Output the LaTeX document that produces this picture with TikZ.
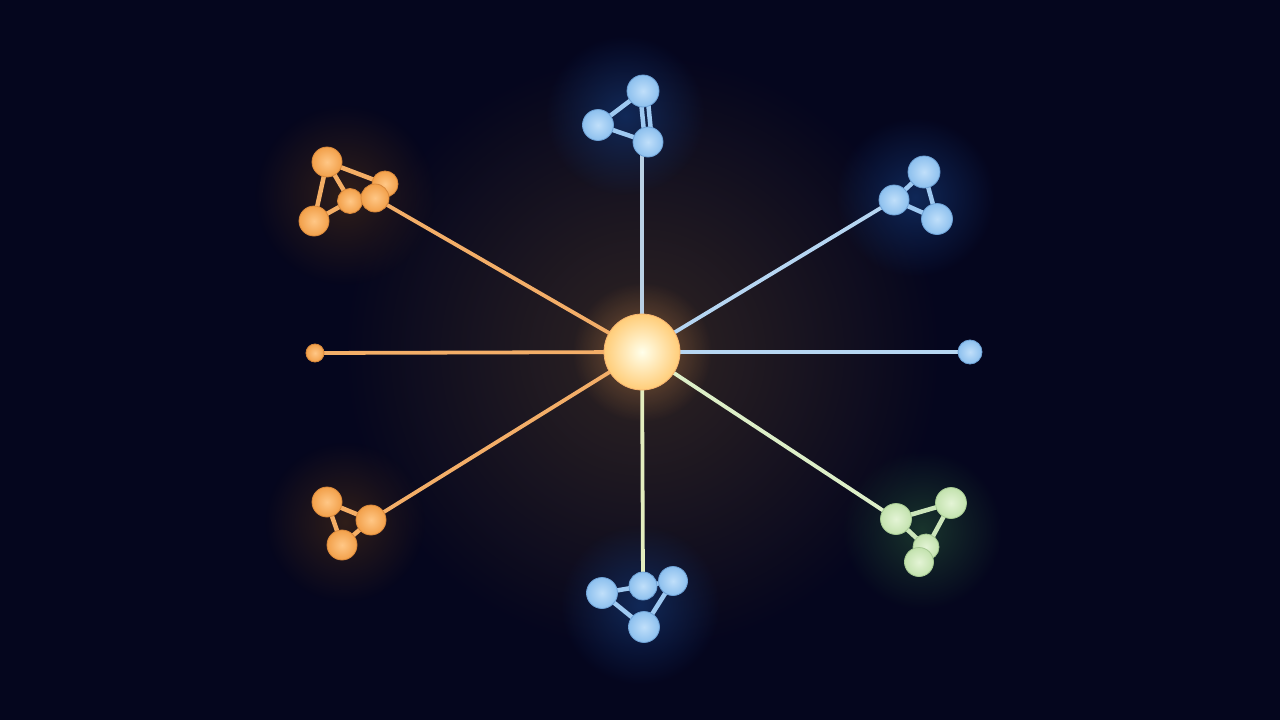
\documentclass[tikz,border=0pt]{standalone}
\usetikzlibrary{backgrounds,fadings}
\definecolor{bg}{HTML}{05061E}
\definecolor{ob}{HTML}{F2A04A}\definecolor{oh}{HTML}{FFC786}\definecolor{od}{HTML}{D8883C}
\definecolor{bb}{HTML}{8DC0EE}\definecolor{bh}{HTML}{C0DFFA}\definecolor{bd}{HTML}{6FA2D6}
\definecolor{gb}{HTML}{C3E2AE}\definecolor{gh}{HTML}{E4F4D6}\definecolor{gd}{HTML}{A6C993}
\definecolor{lo}{HTML}{F3AE68}\definecolor{lb}{HTML}{B6D6F2}\definecolor{lg}{HTML}{DDEFC8}
\definecolor{ly}{HTML}{E3EDBE}\definecolor{lt}{HTML}{B9D0E4}
\definecolor{og}{HTML}{3A2418}\definecolor{bgl}{HTML}{123066}\definecolor{ggl}{HTML}{1E4030}
\definecolor{hubglow}{HTML}{3A2C24}
\tikzfading[name=glowfade, inner color=transparent!20, outer color=transparent!100]
\pgfdeclarelayer{glow}\pgfdeclarelayer{edges}
\pgfsetlayers{glow,edges,main}
\tikzset{
  ballo/.style={circle,inner sep=0pt,minimum size=#1,draw=od,line width=0.8pt,inner color=oh,outer color=ob},
  ballb/.style={circle,inner sep=0pt,minimum size=#1,draw=bd,line width=0.8pt,inner color=bh,outer color=bb},
  ballg/.style={circle,inner sep=0pt,minimum size=#1,draw=gd,line width=0.8pt,inner color=gh,outer color=gb},
  spoke/.style={line width=3.8pt},
  bondo/.style={line width=4.5pt,draw=ob!85!white},
  bondb/.style={line width=4.5pt,draw=bb!85!white},
  bondg/.style={line width=4.5pt,draw=gb!85!white},
  glowdisc/.style={fill=#1,path fading=glowfade},
}
\begin{document}
\begin{tikzpicture}[x=1pt,y=-1pt]
\useasboundingbox (0,0) rectangle (1280,720);
\begin{pgfonlayer}{glow}
\fill[bg] (0,0) rectangle (1280,720);
\fill[glowdisc=hubglow] (642,352) circle (300);
\fill[glowdisc=og] (345,195) circle (90);
\fill[glowdisc=og] (345,522) circle (80);
\fill[glowdisc=bgl] (625,115) circle (80);
\fill[glowdisc=bgl] (915,197) circle (80);
\fill[glowdisc=bgl] (640,605) circle (80);
\fill[glowdisc=ggl] (922,530) circle (80);
\fill[glowdisc=ob!60!bg] (642,352) circle (70);
\end{pgfonlayer}

% hub
\node[circle,inner sep=0pt,minimum size=76pt,draw=ob!80!white,line width=0.8pt,inner color=white!92!yellow,outer color=oh!90!yellow] (hub) at (642,352) {};

% top-left orange cluster
\node[ballo=30pt] (a1) at (327,162) {};
\node[ballo=30pt] (a2) at (314,221) {};
\node[ballo=26pt] (a3) at (385,184) {};
\node[ballo=25pt] (a4) at (350,201) {};
\node[ballo=28pt] (a5) at (375,198) {};

% top blue cluster
\node[ballb=32pt] (b1) at (643,91) {};
\node[ballb=31pt] (b2) at (598,125) {};
\node[ballb=30pt] (b3) at (648,142) {};

% top-right blue cluster
\node[ballb=32pt] (c1) at (924,172) {};
\node[ballb=30pt] (c2) at (894,200) {};
\node[ballb=31pt] (c3) at (937,219) {};

% bottom-left orange cluster
\node[ballo=30pt] (d1) at (327,502) {};
\node[ballo=30pt] (d2) at (371,520) {};
\node[ballo=30pt] (d3) at (342,545) {};

% bottom blue cluster
\node[ballb=31pt] (e1) at (602,593) {};
\node[ballb=29pt] (e3) at (673,581) {};
\node[ballb=28pt] (e2) at (643,586) {};
\node[ballb=31pt] (e4) at (644,627) {};

% bottom-right green cluster
\node[ballg=31pt] (f2) at (951,503) {};
\node[ballg=31pt] (f1) at (896,519) {};
\node[ballg=26pt] (f3) at (926,547) {};
\node[ballg=29pt] (f4) at (919,562) {};

% end dots
\node[ballo=18pt] (lft) at (315,353) {};
\node[ballb=24pt] (rgt) at (970,352) {};

\begin{pgfonlayer}{edges}
% spokes
\draw[spoke,lo] (hub.center) -- (a5.center);
\draw[spoke,lo] (hub.center) -- (lft.center);
\draw[spoke,lo] (hub.center) -- (d2.center);
\draw[spoke,lt] (hub.center) -- (hub.center |- b3.center);
\draw[spoke,lb] (hub.center) -- (c2.center);
\draw[spoke,lb] (hub.center) -- (rgt.center);
\draw[spoke,lg] (hub.center) -- (f1.center);
\draw[spoke,ly] (hub.center) -- (e2.center);
% bonds
\draw[bondo] (a1.center) -- (a2.center);
\draw[bondo] (a1.center) -- (a4.center);
\draw[bondo] (a1.center) -- (a3.center);
\draw[bondo] (a2.center) -- (a4.center);
\draw[bondo] (a4.center) -- (a5.center);
\draw[bondb] (b2.center) -- (b1.center);
\draw[bondb] (b2.center) -- (b3.center);
\draw[bondb] ([xshift=-3pt]b1.center) -- ([xshift=-3pt]b3.center);
\draw[bondb] ([xshift=4pt]b1.center) -- ([xshift=4pt]b3.center);
\draw[bondb] (c2.center) -- (c1.center);
\draw[bondb] (c1.center) -- (c3.center);
\draw[bondb] (c2.center) -- (c3.center);
\draw[bondo] (d1.center) -- (d2.center);
\draw[bondo] (d1.center) -- (d3.center);
\draw[bondo] (d2.center) -- (d3.center);
\draw[bondb] (e1.center) -- (e2.center);
\draw[bondb] (e1.center) -- (e4.center);
\draw[bondb] (e2.center) -- (e3.center);
\draw[bondb] (e3.center) -- (e4.center);
\draw[bondg] (f1.center) -- (f2.center);
\draw[bondg] (f2.center) -- (f4.center);
\draw[bondg] (f1.center) -- (f3.center);
\end{pgfonlayer}
\end{tikzpicture}
\end{document}
